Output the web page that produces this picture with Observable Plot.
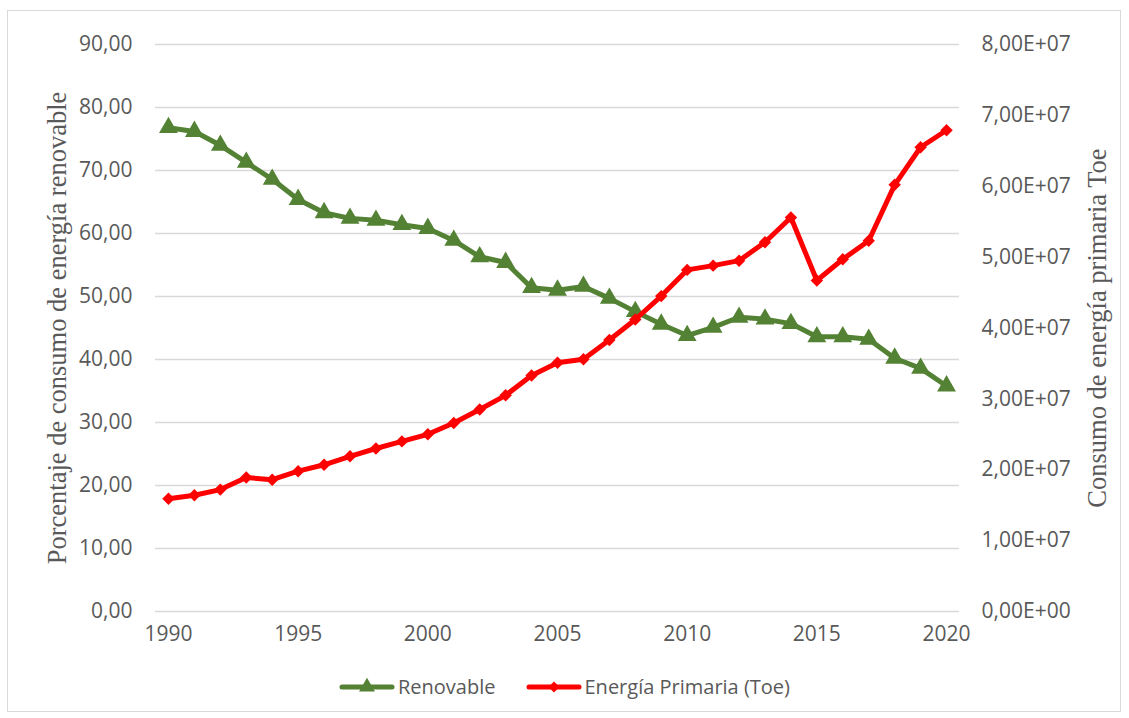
<!DOCTYPE html>
<html>
<head>
<meta charset="utf-8">
<script src="https://cdn.jsdelivr.net/npm/d3@7"></script>
<script src="https://cdn.jsdelivr.net/npm/@observablehq/plot@0.6"></script>
<style>
  html, body { margin: 0; padding: 0; background: #fff; }
  #wrap { position: relative; width: 1129px; height: 718px; overflow: hidden; }
  #border { position: absolute; left: 7px; top: 10px; width: 1114px; height: 702px; border: 1px solid #d9d9d9; box-sizing: border-box; }
  #chart { position: absolute; left: 0; top: 0; }
  #legend { position: absolute; top: 673px; left: 0; width: 1129px; display: flex; justify-content: center; align-items: center; gap: 30px; font-family: "Open Sans", sans-serif; font-size: 20px; color: #595959; box-sizing: border-box; }
  .item { display: flex; align-items: center; gap: 3px; }
</style>
</head>
<body>
<div id="wrap">
  <div id="border"></div>
  <div id="chart"></div>
  <div id="legend"></div>
</div>
<script>
const years = [1990,1991,1992,1993,1994,1995,1996,1997,1998,1999,2000,2001,2002,2003,2004,2005,2006,2007,2008,2009,2010,2011,2012,2013,2014,2015,2016,2017,2018,2019,2020];
const renovable = [76.8,76.2,74.0,71.3,68.6,65.4,63.3,62.4,62.1,61.4,60.8,58.9,56.3,55.4,51.4,51.0,51.6,49.7,47.6,45.6,43.8,45.1,46.7,46.4,45.7,43.6,43.6,43.2,40.2,38.6,35.8];
const primaria = [1.59e7,1.64e7,1.72e7,1.89e7,1.86e7,1.98e7,2.07e7,2.19e7,2.30e7,2.40e7,2.50e7,2.66e7,2.85e7,3.05e7,3.33e7,3.51e7,3.56e7,3.83e7,4.12e7,4.45e7,4.82e7,4.88e7,4.95e7,5.21e7,5.56e7,4.67e7,4.97e7,5.23e7,6.02e7,6.55e7,6.79e7];
const leftTicks = [0,10,20,30,40,50,60,70,80,90];
const rightTicks = [0,1e7,2e7,3e7,4e7,5e7,6e7,7e7,8e7];
const xTicks = [1990,1995,2000,2005,2010,2015,2020];
const seriesNames = ["Renovable", "Energía Primaria (Toe)"];
const leftTitle = "Porcentaje de consumo de energía renovable";
const rightTitle = "Consumo de energía primaria Toe";

const green = "#548235", red = "#ff0000";
const k = 90 / 8e7;
const data = years.map((y, i) => ({year: y, ren: renovable[i], prim: primaria[i] * k}));
const fmtL = d => d3.format(".2f")(d).replace(".", ",");
const fmtR = v => { const s = v.toExponential(2).split("e"); const e = parseInt(s[1]); return s[0].replace(".", ",") + "E" + (e < 0 ? "-" : "+") + String(Math.abs(e)).padStart(2, "0"); };

const chart = Plot.plot({
  width: 1129, height: 660,
  marginTop: 44, marginBottom: 49, marginLeft: 155, marginRight: 170,
  x: {domain: [1989.5, 2020.5]},
  y: {domain: [0, 90]},
  style: {fontFamily: "'Open Sans', sans-serif", fontSize: "21px", color: "#595959", background: "transparent", overflow: "visible"},
  marks: [
    Plot.gridY(leftTicks, {stroke: "#d9d9d9", strokeOpacity: 1, strokeWidth: 1.4}),
    Plot.axisY(leftTicks, {anchor: "left", tickSize: 0, tickPadding: 23, tickFormat: fmtL, label: null, fontSize: 21}),
    Plot.axisY(rightTicks.map(v => v * k), {anchor: "right", tickSize: 0, tickPadding: 22, tickFormat: d => fmtR(d / k), label: null, fontSize: 21}),
    Plot.axisX(xTicks, {tickSize: 0, tickPadding: 15, tickFormat: d => String(d), label: null, fontSize: 21}),
    Plot.text([leftTitle], {frameAnchor: "left", dx: -98, rotate: -90, textAnchor: "middle", fontFamily: "'Liberation Serif', serif", fontSize: 26.5, fill: "#595959"}),
    Plot.text([rightTitle], {frameAnchor: "right", dx: 138, rotate: -90, textAnchor: "middle", fontFamily: "'Liberation Serif', serif", fontSize: 26.5, fill: "#595959"}),
    Plot.line(data, {x: "year", y: "ren", stroke: green, strokeWidth: 5}),
    Plot.dot(data, {x: "year", y: "ren", symbol: "triangle", r: 7, fill: green, stroke: "none"}),
    Plot.line(data, {x: "year", y: "prim", stroke: red, strokeWidth: 5}),
    Plot.dot(data, {x: "year", y: "prim", symbol: "diamond2", r: 5.6, fill: red, stroke: "none"})
  ]
});
document.getElementById("chart").appendChild(chart);

const legend = document.getElementById("legend");
const sym = [d3.symbolTriangle, d3.symbolDiamond2];
const cols = [green, red];
seriesNames.forEach((name, i) => {
  const item = document.createElement("div");
  item.className = "item";
  const svg = d3.create("svg").attr("width", 56).attr("height", 20);
  svg.append("line").attr("x1", 3).attr("x2", 53).attr("y1", 10).attr("y2", 10).attr("stroke", cols[i]).attr("stroke-width", 5).attr("stroke-linecap", "round");
  svg.append("path").attr("d", d3.symbol(sym[i], i === 0 ? 110 : 80)()).attr("transform", "translate(28,10)").attr("fill", cols[i]);
  item.appendChild(svg.node());
  const t = document.createElement("span");
  t.textContent = name;
  item.appendChild(t);
  legend.appendChild(item);
});
</script>
</body>
</html>
